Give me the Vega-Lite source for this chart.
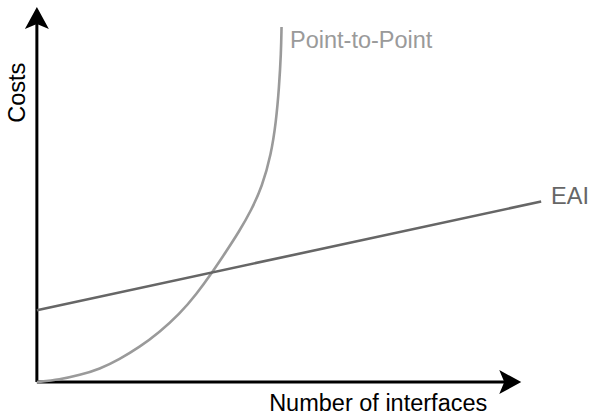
{
  "$schema": "https://vega.github.io/schema/vega-lite/v6.json",
  "width": 589,
  "height": 416,
  "autosize": {"type": "fit", "contains": "padding"},
  "padding": 0,
  "background": "white",
  "config": {"view": {"stroke": null}, "text": {"font": "Liberation Sans"}},
  "datasets": {
    "curves": [
      {"series": "Point-to-Point", "x": 0, "y": 0},
      {"series": "Point-to-Point", "x": 0.46, "y": 0.05},
      {"series": "Point-to-Point", "x": 0.86, "y": 0.14},
      {"series": "Point-to-Point", "x": 1.26, "y": 0.26},
      {"series": "Point-to-Point", "x": 1.66, "y": 0.46},
      {"series": "Point-to-Point", "x": 2.06, "y": 0.7},
      {"series": "Point-to-Point", "x": 2.46, "y": 1.0},
      {"series": "Point-to-Point", "x": 2.86, "y": 1.36},
      {"series": "Point-to-Point", "x": 3.2, "y": 1.76},
      {"series": "Point-to-Point", "x": 3.52, "y": 2.2},
      {"series": "Point-to-Point", "x": 3.8, "y": 2.62},
      {"series": "Point-to-Point", "x": 4.06, "y": 3.02},
      {"series": "Point-to-Point", "x": 4.3, "y": 3.44},
      {"series": "Point-to-Point", "x": 4.52, "y": 3.92},
      {"series": "Point-to-Point", "x": 4.7, "y": 4.56},
      {"series": "Point-to-Point", "x": 4.8, "y": 5.22},
      {"series": "Point-to-Point", "x": 4.86, "y": 5.9},
      {"series": "Point-to-Point", "x": 4.9, "y": 6.6},
      {"series": "Point-to-Point", "x": 4.91, "y": 7.12},
      {"series": "EAI", "x": 0, "y": 1.44},
      {"series": "EAI", "x": 10.12, "y": 3.62}
    ],
    "axes": [
      {"axis": "y", "x": 0, "y": 0, "x2": 0, "y2": 7.2},
      {"axis": "x", "x": 0, "y": 0, "x2": 9.6, "y2": 0}
    ],
    "labels": [
      {"label": "Point-to-Point", "x": 5.08, "y": 6.7},
      {"label": "EAI", "x": 10.32, "y": 3.58}
    ]
  },
  "layer": [
    {
      "data": {"name": "axes"},
      "mark": {"type": "rule", "color": "black", "strokeWidth": 3},
      "encoding": {
        "x": {"field": "x", "type": "quantitative", "scale": {"domain": [-0.74, 11.04], "nice": false, "zero": false}, "axis": null},
        "y": {"field": "y", "type": "quantitative", "scale": {"domain": [-0.66, 7.66], "nice": false, "zero": false}, "axis": null},
        "x2": {"field": "x2"},
        "y2": {"field": "y2"}
      }
    },
    {
      "data": {"values": [{"x": 0, "y": 7.3}]},
      "mark": {"type": "point", "shape": "M0,-0.917L1,0.917L0,0.5L-1,0.917Z", "size": 576, "filled": true, "color": "black", "opacity": 1},
      "encoding": {
        "x": {"field": "x", "type": "quantitative"},
        "y": {"field": "y", "type": "quantitative"}
      }
    },
    {
      "data": {"values": [{"x": 9.5, "y": 0}]},
      "mark": {"type": "point", "shape": "M0.917,0L-0.917,1L-0.5,0L-0.917,-1Z", "size": 576, "filled": true, "color": "black", "opacity": 1},
      "encoding": {
        "x": {"field": "x", "type": "quantitative"},
        "y": {"field": "y", "type": "quantitative"}
      }
    },
    {
      "data": {"name": "curves"},
      "mark": {"type": "line", "interpolate": "basis", "strokeWidth": 2.6},
      "encoding": {
        "x": {"field": "x", "type": "quantitative"},
        "y": {"field": "y", "type": "quantitative"},
        "color": {"field": "series", "type": "nominal", "scale": {"domain": ["Point-to-Point", "EAI"], "range": ["#9a9a9a", "#666666"]}, "legend": null}
      }
    },
    {
      "data": {"name": "labels"},
      "mark": {"type": "text", "align": "left", "baseline": "alphabetic", "fontSize": 23.5},
      "encoding": {
        "x": {"field": "x", "type": "quantitative"},
        "y": {"field": "y", "type": "quantitative"},
        "text": {"field": "label"},
        "color": {"field": "label", "type": "nominal", "scale": {"domain": ["Point-to-Point", "EAI"], "range": ["#9a9a9a", "#666666"]}, "legend": null}
      }
    },
    {
      "data": {"values": [{"label": "Costs", "x": -0.24, "y": 5.8}]},
      "mark": {"type": "text", "align": "center", "baseline": "alphabetic", "angle": 270, "fontSize": 23.5, "color": "black"},
      "encoding": {
        "x": {"field": "x", "type": "quantitative"},
        "y": {"field": "y", "type": "quantitative"},
        "text": {"field": "label"}
      }
    },
    {
      "data": {"values": [{"label": "Number of interfaces", "x": 6.85, "y": -0.58}]},
      "mark": {"type": "text", "align": "center", "baseline": "alphabetic", "fontSize": 23.5, "color": "black"},
      "encoding": {
        "x": {"field": "x", "type": "quantitative"},
        "y": {"field": "y", "type": "quantitative"},
        "text": {"field": "label"}
      }
    }
  ]
}
